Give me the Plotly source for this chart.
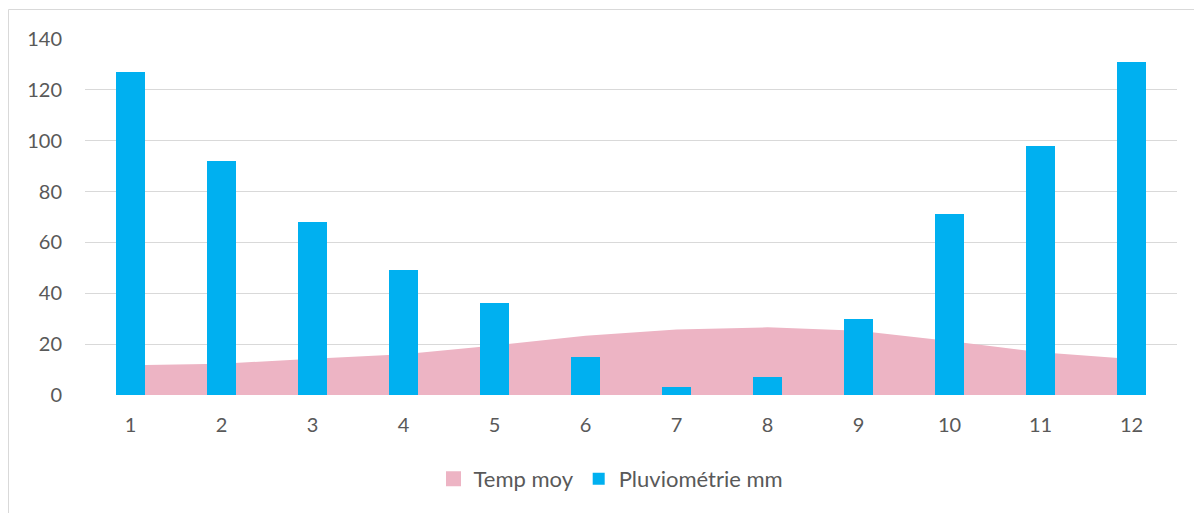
import plotly.graph_objects as go

months = [1, 2, 3, 4, 5, 6, 7, 8, 9, 10, 11, 12]
temp_moy = [11.7, 12.3, 14.3, 16.0, 19.5, 23.3, 25.8, 26.6, 25.3, 21.2, 16.8, 14.2]
pluvio_mm = [127, 92, 68, 49, 36, 15, 3, 7, 30, 71, 98, 131]
y_ticks = [0, 20, 40, 60, 80, 100, 120, 140]

OFF = 8  # page body margin
W, H = 1202 - OFF, 513 - OFF
L, T = 85 - OFF, 39 - OFF
R = W - (1177 - OFF)
B = H - (395 - OFF)
pw, ph = W - L - R, H - T - B

def px_x(px):
    return (px - OFF - L) / pw

def px_y(py):
    return (H - B - (py - OFF)) / ph

font_col = "#595959"
fam = "Lato, Open Sans, sans-serif"
pink = "#EDB4C4"
blue = "#00B0F0"

fig = go.Figure()
fig.add_trace(go.Scatter(
    x=months, y=temp_moy, name="Temp moy", mode="lines",
    fill="tozeroy", fillcolor=pink, line=dict(width=0, color=pink),
    xaxis="x", yaxis="y", showlegend=False,
))
# legend proxy for the area series (square swatch)
fig.add_trace(go.Scatter(
    x=[None], y=[None], name="Temp moy", mode="markers",
    marker=dict(symbol="square", size=15, color=pink),
    xaxis="x", yaxis="y", showlegend=True,
))
fig.add_trace(go.Bar(
    x=months, y=pluvio_mm, name="Pluviométrie mm", width=0.32,
    marker=dict(color=blue, line=dict(width=0)),
    xaxis="x2", yaxis="y2",
))

fig.update_layout(
    width=W, height=H,
    margin=dict(l=L, r=R, t=T, b=B),
    paper_bgcolor="white", plot_bgcolor="white",
    font=dict(family=fam, size=20, color=font_col),
    showlegend=True,
    legend=dict(orientation="h", x=px_x(611), xanchor="center",
                y=px_y(479), yanchor="middle",
                font=dict(size=22, color=font_col), itemwidth=30,
                traceorder="normal"),
    xaxis=dict(range=[0.5, 12.5], tickmode="array", tickvals=months,
               ticktext=[str(m) for m in months], showgrid=False,
               zeroline=False, showline=False, ticks="",
               ticklabelstandoff=16,
               tickfont=dict(size=20, color=font_col)),
    yaxis=dict(range=[0, 140], tickmode="array", tickvals=y_ticks,
               showgrid=True, gridcolor="#D9D9D9", gridwidth=1,
               zeroline=False, showline=False, ticks="",
               ticklabelstandoff=22,
               tickfont=dict(size=20, color=font_col)),
    xaxis2=dict(range=[0.5, 12.5], overlaying="x", visible=False),
    yaxis2=dict(range=[0, 140], overlaying="y", visible=False),
    bargap=0,
)

# outer chart border (light gray frame)
fig.add_shape(type="line", xref="paper", yref="paper",
              x0=px_x(8.5), x1=px_x(1215), y0=px_y(9.5), y1=px_y(9.5),
              line=dict(color="#D9D9D9", width=1))
fig.add_shape(type="line", xref="paper", yref="paper",
              x0=px_x(8.5), x1=px_x(8.5), y0=px_y(9.5), y1=px_y(530),
              line=dict(color="#D9D9D9", width=1))

fig.write_html("out.html")
